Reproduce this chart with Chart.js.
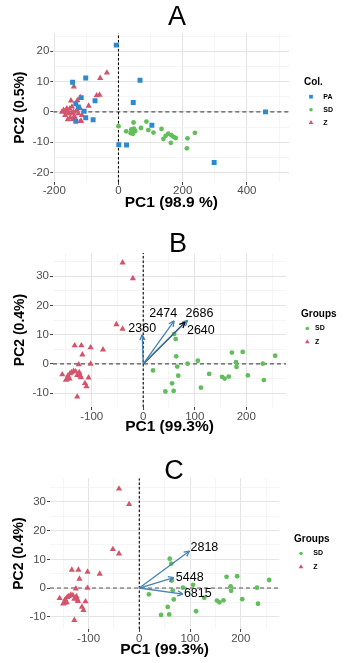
<!DOCTYPE html>
<html>
<head>
<meta charset="utf-8">
<script src="https://cdn.jsdelivr.net/npm/chart.js@4.4.0/dist/chart.umd.min.js"></script>
<style>
  body { margin: 0; background: #fff; width: 359px; height: 663px; position: relative; overflow: hidden; }
  canvas { position: absolute; left: 0; }
</style>
</head>
<body>
<canvas id="panelA" width="359" height="212" style="top:0px"></canvas>
<canvas id="panelB" width="359" height="224" style="top:212px"></canvas>
<canvas id="panelC" width="359" height="231" style="top:432px"></canvas>
<script>
// ---- data ----
// panel A scores (PC1, PC2)
const paScoresA = [[-7,22],[-143,9.8],[-102,11.2],[67,10.4],[46,3.1],[458,0],[104,-4.4],[1,-10.8],[25,-10.9],
  [298,-16.7],[-73,3.7],[-116,4.7],[-133,2.7],[-125,1.6],[-107,0.2],[-102,-1.9],[-79,-2.6],[-133,-3.1]];
const sdScoresA = [[0,-4.7],[24,-6.4],[47,-3.5],[38,-7.0],[42,-6.0],[45,-7.2],[48,-5.5],[52,-6.3],[40,-5.8],
  [70,-5.3],[87,-3.2],[93,-6.0],[109,-6.8],[134,-5.6],[140,-8.9],[147,-7.9],[155,-7.2],[163,-10.2],[165,-7.7],
  [171,-8.2],[178,-8.6],[215,-8.7],[238,-6.9],[213,-12.0]];
const zScoresA = [[-36,12.9],[-57,11.1],[-139,8.3],[-59,5.6],[-68,5.4],[-119,4.8],[-148,3.7],[-128,3.8],[-93,2.0],
  [-119,-3.1],[-171,0.6],[-161,1.1],[-156,-0.5],[-145,-0.5],[-166,-1.1],[-150,-1.9],[-140,0],[-130,0.6],[-125,-0.5],
  [-119,1.1],[-114,-1.1],[-158,-2.5],[-135,-2.2],[-116,-3.0],[-176,0],[-163,0],[-145,1.7],[-137,-1.5],[-152,1.0],[-142,-2.4]];

// panels B and C share the same scores
const sdScoresBC = [[60,10.2],[63,8.5],[64,2.6],[19,-2.2],[66,-0.9],[86,0.1],[106,1.1],[68,-4.0],[56,-6.6],
  [43,-9.4],[59,-9.2],[112,-8.1],[128,-3.4],[153,-4.4],[158,-5.0],[166,-4.3],[172,3.9],[193,4.1],[180,0.6],
  [181,-1.0],[203,-3.9],[232,0.1],[234,-5.5],[256,2.8]];
const zScoresBC = [[-157,-3.6],[-148,-5.2],[-146,-4.0],[-142,-3.2],[-139,-2.9],[-135,-2.4],[-131,-2.6],[-128,-3.8],
  [-124,-2.9],[-122,-4.0],[-121,-4.6],[-143,-5.0],[-150,-5.5],[-125,-0.2],[-102,0],[-106,-4.7],[-113,-6.6],
  [-110,-7.7],[-128,-11.2],[-118,3.2],[-133,6.3],[-120,6.3],[-102,5.6],[-78,4.9],[-52,13.5],[-40,12.0],[-40,34.6],[-20,29.2]];

// loading arrows (tip of each arrow)
const loadNamesB = ['2360', '2474', '2686', '2640'];
const loadTipsB = [[-2,10],[60,14.7],[86,14.9],[81,14.2]];
const loadNamesC = ['2818', '5448', '6815'];
const loadTipsC = [[99,12.9],[68,3.6],[86,-2.1]];

// axis limits and grid/tick values (labels shown on the major ones only)
const xLimA = [-203, 532], yLimA = [-23.1, 25.9];
const xLimB = [-175, 277], yLimB = [-14.7, 37.9];
const xLimC = [-176, 276], yLimC = [-14.3, 38.3];
const xTicksA = [-200, -100, 0, 100, 200, 300, 400, 500];
const yTicksA = [-20, -15, -10, -5, 0, 5, 10, 15, 20, 25];
const xTicksBC = [-150, -100, -50, 0, 50, 100, 150, 200, 250];
const yTicksBC = [-10, -5, 0, 5, 10, 15, 20, 25, 30, 35];

const COL = { PA: '#2D8ACF', SD: '#62BE5B', Z: '#D4546B' };
Chart.defaults.font.family = "'Liberation Sans', Arial, sans-serif";

const isMult = (v, m) => Math.abs(v / m - Math.round(v / m)) < 1e-6;
const toPts = arr => arr.map(p => ({ x: p[0], y: p[1] }));

function axisOpts(lim, tickVals, major, fit, title, tickPad, isY) {
  return {
    type: 'linear', min: lim[0], max: lim[1],
    border: { display: false },
    afterBuildTicks: s => { s.ticks = tickVals.map(v => ({ value: v })); },
    grid: {
      color: c => !c.tick ? 'transparent' : isMult(c.tick.value, major) ? '#E4E4E4' : '#F1F1F1',
      lineWidth: c => c.tick && isMult(c.tick.value, major) ? 1 : 0.7,
      tickColor: c => c.tick && isMult(c.tick.value, major) ? '#444' : 'transparent',
      tickLength: 3, drawTicks: true
    },
    ticks: {
      autoSkip: false, maxRotation: 0,
      padding: tickPad, color: '#4D4D4D', font: { size: 11.5 },
      callback: v => isMult(v, major) ? String(v) : ''
    },
    title: title,
    afterFit: s => { if (isY) s.width = fit; else s.height = fit; }
  };
}

// empty axis on the right: keeps room for the legend while the title stays centred on the figure
function spacerAxis(w) {
  return { position: 'right', display: true, grid: { display: false }, border: { display: false },
    ticks: { display: false }, afterFit: s => { s.width = w; } };
}

// dashed reference lines through the origin
function refLines(xLim, yLim) {
  return [
    { data: toPts([[0, yLim[0]], [0, yLim[1]]]), showLine: true, pointRadius: 0, borderColor: '#000',
      borderWidth: 1.1, borderDash: [2.5, 2], order: 5 },
    { data: toPts([[xLim[0], 0], [xLim[1], 0]]), showLine: true, pointRadius: 0, borderColor: '#555',
      borderWidth: 1.2, borderDash: [4, 3], order: 5 }
  ];
}

function scoreSet(label, arr, style, r) {
  return { label: label, data: toPts(arr), pointStyle: style, pointRadius: r, pointHoverRadius: r,
    backgroundColor: COL[label], borderWidth: 0, inLegend: true, legendRadius: r * 0.75, order: 2 };
}

function arrowSets(names, tips, colors, labelPos) {
  return names.map((n, i) => ({
    label: n, data: toPts([[0, 0], tips[i]]), showLine: true, pointRadius: 0,
    borderColor: colors[i], borderWidth: 1.3, order: 0, arrowLabel: labelPos[i]
  }));
}

const arrowPlugin = {
  id: 'arrowHeads',
  afterDatasetsDraw(chart) {
    const ctx = chart.ctx;
    chart.data.datasets.forEach((ds, i) => {
      if (!ds.arrowLabel) return;
      const pts = chart.getDatasetMeta(i).data;
      const a = pts[0], b = pts[1];
      const ang = Math.atan2(b.y - a.y, b.x - a.x);
      ctx.save();
      ctx.strokeStyle = ds.borderColor;
      ctx.lineWidth = ds.borderWidth;
      ctx.beginPath();
      [-0.45, 0.45].forEach(s => {
        ctx.moveTo(b.x, b.y);
        ctx.lineTo(b.x - 6 * Math.cos(ang + s), b.y - 6 * Math.sin(ang + s));
      });
      ctx.stroke();
      ctx.fillStyle = '#000';
      ctx.font = "12.5px 'Liberation Sans', Arial, sans-serif";
      ctx.textAlign = ds.arrowLabel.align;
      ctx.textBaseline = 'middle';
      ctx.fillText(ds.label, b.x + ds.arrowLabel.dx, b.y + ds.arrowLabel.dy);
      ctx.restore();
    });
  }
};

const legendPlugin = {
  id: 'groupLegend',
  afterDraw(chart, args, o) {
    const { ctx, chartArea } = chart;
    const x0 = chartArea.right + o.dx, y0 = chartArea.top + o.dy;
    ctx.save();
    ctx.fillStyle = '#000';
    ctx.textBaseline = 'middle';
    ctx.textAlign = 'left';
    ctx.font = "bold 10px 'Liberation Sans', Arial, sans-serif";
    ctx.fillText(o.title, x0, y0);
    let y = y0 + o.first;
    chart.data.datasets.filter(d => d.inLegend).forEach(d => {
      ctx.fillStyle = d.backgroundColor;
      Chart.helpers.drawPoint(ctx, { pointStyle: d.pointStyle, radius: d.legendRadius, borderWidth: 0, rotation: 0 },
        x0 + o.markX, y);
      ctx.fillStyle = '#000';
      ctx.font = "bold 7px 'Liberation Sans', Arial, sans-serif";
      ctx.fillText(d.label, x0 + o.textX, y);
      y += o.step;
    });
    ctx.restore();
  }
};

function makePanel(id, p) {
  new Chart(document.getElementById(id), {
    type: 'scatter',
    data: { datasets: p.datasets },
    options: {
      responsive: false, animation: false, devicePixelRatio: 1,
      layout: { padding: { left: 0, right: p.padRight, top: 0, bottom: 0 } },
      scales: {
        x: axisOpts(p.xLim, p.xTicks, p.xMajor, p.xFit, { display: true, text: p.xTitle, color: '#000',
          font: { size: 15.5, weight: 'bold' }, padding: { top: 0, bottom: p.xTitlePad } }, p.xTickPad, false),
        y: axisOpts(p.yLim, p.yTicks, 10, p.yFit, { display: true, text: p.yTitle, color: '#000',
          font: { size: 14, weight: 'bold' }, padding: { top: p.yTitlePad, bottom: 0 } }, 1, true),
        yRight: spacerAxis(p.rightSpace)
      },
      plugins: {
        legend: { display: false },
        tooltip: { enabled: false },
        title: { display: true, text: p.title, color: '#000',
          font: { size: 27, weight: 'normal', lineHeight: 0.6 }, padding: p.titlePad },
        groupLegend: p.legend
      }
    },
    plugins: [arrowPlugin, legendPlugin]
  });
}

makePanel('panelA', {
  title: 'A', titlePad: { top: 9.5, bottom: 7.6 },
  xLim: xLimA, yLim: yLimA, xTicks: xTicksA, yTicks: yTicksA, xMajor: 200,
  padRight: 5, rightSpace: 64.7, yFit: 53.3, xFit: 30,
  xTitle: 'PC1 (98.9 %)', yTitle: 'PC2 (0.5%)', xTitlePad: 0, yTitlePad: 11.3, xTickPad: -1,
  legend: { title: 'Col.', dx: 14.7, dy: 49, first: 14.4, step: 13, markX: 7, textX: 19.3 },
  datasets: [scoreSet('PA', paScoresA, 'rect', 3.5), scoreSet('SD', sdScoresA, 'circle', 2.4),
    scoreSet('Z', zScoresA, 'triangle', 3.6), ...refLines(xLimA, yLimA)]
});

makePanel('panelB', {
  title: 'B', titlePad: { top: 24.5, bottom: 0.3 },
  xLim: xLimB, yLim: yLimB, xTicks: xTicksBC, yTicks: yTicksBC, xMajor: 100,
  padRight: 3, rightSpace: 70, yFit: 53, xFit: 29,
  xTitle: 'PC1 (99.3%)', yTitle: 'PC2 (0.4%)', xTitlePad: 0, yTitlePad: 11.9, xTickPad: 0,
  legend: { title: 'Groups', dx: 15, dy: 61, first: 14.5, step: 13.5, markX: 6.3, textX: 14 },
  datasets: [scoreSet('SD', sdScoresBC, 'circle', 2.4), scoreSet('Z', zScoresBC, 'triangle', 3.6),
    ...arrowSets(loadNamesB, loadTipsB, ['#4682B4', '#4682B4', '#4682B4', '#000'],
      [{ align: 'center', dx: 0, dy: -6 }, { align: 'right', dx: 3, dy: -7 },
       { align: 'left', dx: -2, dy: -7 }, { align: 'left', dx: 2, dy: 8 }]),
    ...refLines(xLimB, yLimB)]
});

makePanel('panelC', {
  title: 'C', titlePad: { top: 31.5, bottom: -1.5 },
  xLim: xLimC, yLim: yLimC, xTicks: xTicksBC, yTicks: yTicksBC, xMajor: 100,
  padRight: 11, rightSpace: 68.7, yFit: 50, xFit: 34,
  xTitle: 'PC1 (99.3%)', yTitle: 'PC2 (0.4%)', xTitlePad: 3.7, yTitlePad: 10.3, xTickPad: 0,
  legend: { title: 'Groups', dx: 14.7, dy: 61, first: 14.3, step: 13.4, markX: 7, textX: 19.3 },
  datasets: [scoreSet('SD', sdScoresBC, 'circle', 2.4), scoreSet('Z', zScoresBC, 'triangle', 3.6),
    ...arrowSets(loadNamesC, loadTipsC, ['#4682B4', '#4682B4', '#4682B4'],
      [{ align: 'left', dx: 1, dy: -3 }, { align: 'left', dx: 2, dy: 0 }, { align: 'left', dx: 1, dy: 0 }]),
    ...refLines(xLimC, yLimC)]
});
</script>
</body>
</html>
